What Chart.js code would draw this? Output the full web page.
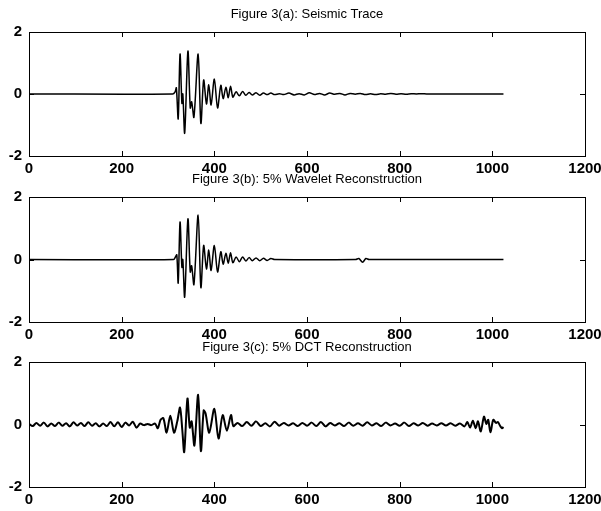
<!DOCTYPE html>
<html>
<head>
<meta charset="UTF-8">
<script src="https://cdn.jsdelivr.net/npm/chart.js@4.4.0/dist/chart.umd.min.js"></script>
<title>Figure 3</title>
<style>
  body { margin: 0; background: #fff; }
  .panel { position: absolute; left: 0; width: 601px; }
</style>
</head>
<body>
<div class="panel" style="top:0px;height:180px"><canvas id="figA"></canvas></div>
<div class="panel" style="top:165px;height:181px"><canvas id="figB"></canvas></div>
<div class="panel" style="top:330px;height:181px"><canvas id="figC"></canvas></div>
<script>
// axis ticks shared by the three panels
var xTicks = [0, 200, 400, 600, 800, 1000, 1200];
var yTicks = [-2, 0, 2];

var titleA = 'Figure 3(a): Seismic Trace';
var titleB = 'Figure 3(b): 5% Wavelet Reconstruction';
var titleC = 'Figure 3(c): 5% DCT Reconstruction';

// (a) original trace
var traceX = [0, 310, 315, 318, 322, 326, 330, 332, 336, 343, 348, 351, 356, 365, 371, 377, 383, 388, 393, 400,
  407, 414, 419, 425, 430, 435, 440, 447, 454, 461, 468, 475, 482, 490, 498, 506, 514, 522, 530, 540,
  550, 561, 572, 583, 594, 605, 616, 627, 638, 649, 660, 671, 682, 693, 704, 715, 726, 737, 748, 759,
  770, 781, 792, 803, 814, 825, 836, 847, 858, 870, 1024];
var traceY = [0, 0, 0.06, 0.2, -0.8, 1.29, -0.3, 0, -1.26, 1.38, -0.45, -0.25, -0.75, 1.29, -0.95, 0.45, -0.32, 0.3, -0.35, 0.48,
  -0.45, 0.28, -0.15, 0.22, -0.12, 0.25, -0.1, 0.07, -0.06, 0.08, -0.04, 0.05, -0.03, 0.04, -0.04, 0.03, -0.02, 0.03, -0.02, 0.01,
  -0.02, 0.03, -0.03, 0.01, -0.03, 0.04, -0.02, 0.02, -0.03, 0.03, -0.01, 0.02, -0.03, 0.02, -0.01, 0.02, -0.02, 0.01, -0.02, 0.01,
  -0.01, 0.02, -0.01, 0.01, -0.01, 0.01, 0, 0.01, 0, 0, 0];

// (b) wavelet reconstruction
var waveletX = [0, 312, 316, 319, 322, 326, 330, 332, 336, 343, 348, 351, 356, 365, 371, 377, 383, 388, 393, 400,
  407, 414, 419, 425, 430, 435, 440, 447, 454, 461, 468, 475, 482, 490, 498, 506, 514, 522, 530, 705,
  712, 720, 727, 734, 1024];
var waveletY = [0, 0, 0.08, 0.15, -0.75, 1.2, -0.25, 0, -1.2, 1.3, -0.4, -0.2, -0.8, 1.42, -0.9, 0.45, -0.3, 0.3, -0.35, 0.45,
  -0.4, 0.25, -0.15, 0.2, -0.12, 0.22, -0.1, 0.08, -0.07, 0.08, -0.05, 0.06, -0.04, 0.05, -0.04, 0.04, -0.03, 0.03, 0, 0,
  0.03, -0.09, 0.03, 0, 0];

// (c) DCT reconstruction
var dctX = [0, 8, 16, 24, 32, 40, 48, 56, 64, 72, 80, 88, 96, 104, 112, 120, 128, 136, 144, 152,
  160, 168, 176, 184, 192, 200, 208, 216, 224, 232, 240, 248, 256, 264, 272, 278, 284, 290, 297, 305,
  313, 320, 326, 331, 335, 342, 347, 351, 357, 365, 371, 377, 381, 389, 400, 409, 418, 427, 436, 441,
  450, 460, 470, 480, 490, 500, 510, 520, 530, 540, 550, 560, 570, 580, 590, 600, 610, 620, 630, 640,
  650, 660, 670, 680, 690, 700, 710, 720, 730, 740, 750, 760, 770, 780, 790, 800, 810, 820, 830, 840,
  850, 860, 870, 880, 890, 900, 910, 920, 930, 940, 946, 952, 958, 964, 969, 975, 982, 987, 991, 996,
  1002, 1008, 1012, 1017, 1021, 1024];
var dctY = [0.02, -0.05, 0.05, -0.04, 0.06, -0.06, 0.03, -0.05, 0.06, -0.04, 0.04, -0.06, 0.07, -0.03, 0.05, -0.05, 0.07, -0.04, 0.04, -0.06,
  0.03, -0.05, 0.08, -0.06, 0.07, -0.08, 0.06, -0.03, 0.09, -0.1, 0.03, -0.02, 0.02, -0.02, 0.03, -0.12, 0.15, 0.2, -0.26, 0.28,
  -0.26, 0.1, 0.54, -0.2, -0.88, 0.83, -0.1, 0.1, -0.67, 0.95, -0.85, 0.45, 0.36, -0.26, 0.5, -0.45, 0.3, -0.2, 0.3, -0.05,
  0.05, -0.05, 0.08, -0.04, 0.1, -0.05, 0.04, -0.06, 0.09, -0.04, 0.05, -0.03, 0.04, -0.05, 0.05, -0.04, 0.06, -0.05, 0.08, -0.06,
  0.05, -0.03, 0.04, -0.05, 0.06, -0.04, 0.04, -0.04, 0.07, -0.03, 0.04, -0.05, 0.06, -0.03, 0.03, -0.04, 0.06, -0.05, 0.04, -0.03,
  0.05, -0.04, 0.03, -0.03, 0.04, -0.03, 0.04, -0.04, 0.03, -0.06, 0.08, -0.1, 0.12, -0.12, 0.1, -0.22, 0.25, 0.02, 0.15, -0.25,
  0.15, 0.05, 0.08, -0.05, -0.12, -0.08];

var FONT = '"Liberation Sans", Arial, Helvetica, sans-serif';

function points(xs, ys) {
  return xs.map(function (x, i) { return { x: x, y: ys[i] }; });
}

// box around the plot, inward ticks on all four sides, and the title
var matlabAxes = {
  id: 'matlabAxes',
  afterDraw: function (chart, args, opts) {
    var a = chart.chartArea, ctx = chart.ctx;
    var sx = chart.scales.x, sy = chart.scales.y;
    var len = 5;
    ctx.save();
    ctx.strokeStyle = '#000';
    ctx.lineWidth = 1;
    ctx.strokeRect(Math.round(a.left) + 0.5, Math.round(a.top) + 0.5,
      Math.round(a.right - a.left), Math.round(a.bottom - a.top));
    ctx.beginPath();
    sx.ticks.forEach(function (t) {
      var px = Math.round(sx.getPixelForValue(t.value)) + 0.5;
      ctx.moveTo(px, a.bottom); ctx.lineTo(px, a.bottom - len);
      ctx.moveTo(px, a.top); ctx.lineTo(px, a.top + len);
    });
    sy.ticks.forEach(function (t) {
      var py = Math.round(sy.getPixelForValue(t.value)) + 0.5;
      ctx.moveTo(a.left, py); ctx.lineTo(a.left + len, py);
      ctx.moveTo(a.right, py); ctx.lineTo(a.right - len, py);
    });
    ctx.stroke();
    ctx.fillStyle = '#000';
    ctx.font = '13px ' + FONT;
    ctx.textAlign = 'center';
    ctx.textBaseline = 'middle';
    ctx.fillText(opts.text, (a.left + a.right) / 2, a.top - opts.gap);
    ctx.restore();
  }
};

function plain(v) { return String(v); }

function makePanel(id, xs, ys, title, gap, width) {
  return new Chart(document.getElementById(id), {
    type: 'line',
    data: {
      datasets: [{
        data: points(xs, ys),
        borderColor: '#000',
        borderWidth: width,
        pointRadius: 0,
        tension: 0.3,
        fill: false
      }]
    },
    options: {
      responsive: true,
      maintainAspectRatio: false,
      animation: false,
      layout: { padding: { top: 32, right: 16, left: 0, bottom: 0 } },
      plugins: {
        legend: { display: false },
        tooltip: { enabled: false },
        matlabAxes: { text: title, gap: gap }
      },
      scales: {
        x: {
          type: 'linear', min: 0, max: 1200,
          afterBuildTicks: function (s) { s.ticks = xTicks.map(function (v) { return { value: v }; }); },
          afterFit: function (s) { s.height = 24; s.paddingLeft = 0; s.paddingRight = 0; },
          grid: { display: false, drawTicks: false },
          border: { display: false },
          ticks: { color: '#000', padding: 4, maxRotation: 0, autoSkip: false, callback: plain,
            font: { family: FONT, size: 15, weight: 'bold' } }
        },
        y: {
          min: -2, max: 2,
          afterBuildTicks: function (s) { s.ticks = yTicks.map(function (v) { return { value: v }; }); },
          afterFit: function (s) { s.width = 29; s.paddingTop = 0; s.paddingBottom = 0; },
          grid: { display: false, drawTicks: false },
          border: { display: false },
          ticks: { color: '#000', padding: 7, callback: plain, font: { family: FONT, size: 15, weight: 'bold' } }
        }
      }
    },
    plugins: [matlabAxes]
  });
}

makePanel('figA', traceX, traceY, titleA, 18, 1.5);
makePanel('figB', waveletX, waveletY, titleB, 18, 1.5);
makePanel('figC', dctX, dctY, titleC, 15, 2);
</script>
</body>
</html>
